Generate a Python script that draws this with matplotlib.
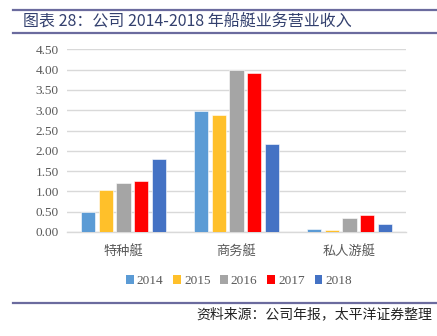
"""Boat business revenue 2014-2018 grouped bar chart."""

import numpy as np
import matplotlib
matplotlib.use("Agg")
import matplotlib.pyplot as plt
from matplotlib.patches import Patch
from matplotlib.lines import Line2D

# data
categories = ["特种艇", "商务艇", "私人游艇"]
years = ["2014", "2015", "2016", "2017", "2018"]
rev_2014 = [0.49, 2.97, 0.07]
rev_2015 = [1.03, 2.87, 0.04]
rev_2016 = [1.21, 3.98, 0.34]
rev_2017 = [1.25, 3.91, 0.42]
rev_2018 = [1.80, 2.16, 0.20]
y_ticks = [0.0, 0.5, 1.0, 1.5, 2.0, 2.5, 3.0, 3.5, 4.0, 4.5]

series = [rev_2014, rev_2015, rev_2016, rev_2017, rev_2018]
colors = ["#5B9BD5", "#FFC02A", "#A5A5A5", "#FF0000", "#4472C4"]

W, H = 437, 336
fig = plt.figure(figsize=(W / 100, H / 100), dpi=100)

cjk = ["Noto Sans CJK SC", "DejaVu Sans"]
serif = "Liberation Serif"
tick_grey = "#595959"

# plot area in pixels: x 67..406, y 49..232
ax = fig.add_axes([67 / W, (H - 232) / H, 339 / W, (232 - 49.3) / H])
x = np.arange(len(categories))
bar_w = 0.124
pitch = 0.155
for i, (vals, col) in enumerate(zip(series, colors)):
    ax.bar(x + (i - 2) * pitch, vals, width=bar_w, color=col,
           edgecolor="white", linewidth=0.4, zorder=3)

ax.set_xlim(-0.5, len(categories) - 0.5)
ax.set_ylim(0, 4.5)
ax.set_yticks(y_ticks)
ax.set_yticklabels([f"{v:.2f}" for v in y_ticks], fontfamily=serif,
                   fontsize=9.5, color=tick_grey)
ax.set_xticks(x)
ax.set_xticklabels(categories, fontfamily=cjk, fontsize=9.5, color=tick_grey)
ax.tick_params(axis="both", length=0)
ax.tick_params(axis="x", pad=9)
ax.tick_params(axis="y", pad=6)
ax.grid(axis="y", color="#D9D9D9", linewidth=1.0, zorder=0)
for side in ["top", "right", "left"]:
    ax.spines[side].set_visible(False)
ax.spines["bottom"].set_color("#D9D9D9")
ax.spines["bottom"].set_linewidth(1.0)

handles = [Patch(facecolor=c, edgecolor="none") for c in colors]
fig.legend(handles, years, loc="center", ncol=5,
           bbox_to_anchor=(239 / W, 1 - 281 / H), frameon=False,
           prop={"family": serif, "size": 9.5}, labelcolor=tick_grey,
           handlelength=0.6, handleheight=0.6, handletextpad=0.2,
           columnspacing=0.75)

# title block with rules
line_col = "#6B6B9E"
fig.add_artist(Line2D([13 / W, 1], [1 - 9.5 / H] * 2, color=line_col,
                      linewidth=1.6, transform=fig.transFigure))
fig.add_artist(Line2D([13 / W, 1], [1 - 33 / H] * 2, color=line_col,
                      linewidth=1.6, transform=fig.transFigure))
fig.text(23 / W, 1 - 22 / H, "图表 28：公司 2014-2018 年船艇业务营业收入",
         fontfamily=cjk, fontsize=11.5, color="#33406E", va="center",
         ha="left")

fig.add_artist(Line2D([13 / W, 1], [1 - 302.5 / H] * 2, color=line_col,
                      linewidth=1.6, transform=fig.transFigure))
fig.text(432 / W, 1 - 314 / H, "资料来源：公司年报，太平洋证券整理",
         fontfamily=cjk, fontsize=10, color="#222222", va="center",
         ha="right", style="italic")

fig.savefig("out.png", dpi=100)
